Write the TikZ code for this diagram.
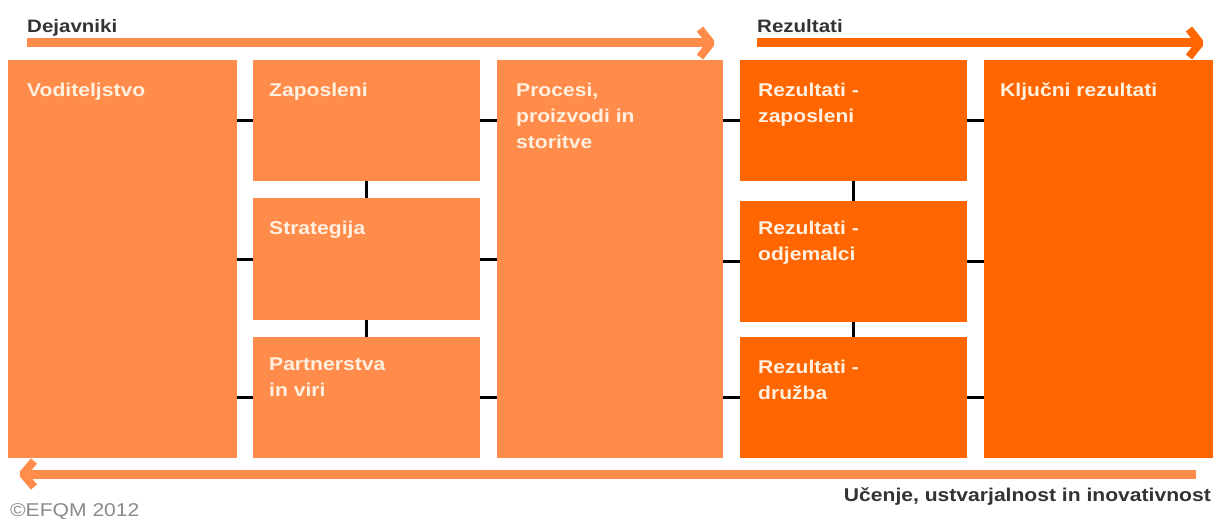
\documentclass[tikz,border=0pt]{standalone}
\usepackage{fontspec}
\setmainfont[FakeStretch=1.14]{Liberation Sans}
\usetikzlibrary{calc}

\definecolor{drvorange}{HTML}{FF8C4B}
\definecolor{resorange}{HTML}{FF6600}
\definecolor{boxtext}{HTML}{FFF0E0}
\definecolor{labelgray}{HTML}{333333}
\definecolor{notegray}{HTML}{8A8A8A}

% stacked title lines, baseline on the first line
\newcommand{\titlelines}[1]{\begin{tabular}[t]{@{}l@{}}#1\end{tabular}}

\begin{document}
\begin{tikzpicture}[x=1pt,y=-1pt,
  block/.style={rectangle, draw=none, inner sep=0pt, anchor=north west},
  drvbox/.style={block, fill=drvorange},
  resbox/.style={block, fill=resorange},
  boxlabel/.style={anchor=base west, inner sep=0pt, text=boxtext,
    font=\bfseries\fontsize{18.5}{26}\selectfont},
  headlabel/.style={anchor=base west, inner sep=0pt, text=labelgray,
    font=\bfseries\fontsize{18}{22}\selectfont},
  conn/.style={draw=black, line width=3pt},
  flowline/.style={line width=9pt},
  chevron/.style={line width=8pt, line join=bevel, line cap=butt}]

\useasboundingbox (0,0) rectangle (1213,519);
\fill[white] (0,0) rectangle (1213,519);

% ---- enablers -------------------------------------------------------
\node[drvbox, minimum width=229pt, minimum height=398pt] (lead)  at (8,60)   {};
\node[drvbox, minimum width=227pt, minimum height=121pt] (peop)  at (253,60) {};
\node[drvbox, minimum width=227pt, minimum height=122pt] (strat) at (253,198) {};
\node[drvbox, minimum width=227pt, minimum height=121pt] (part)  at (253,337) {};
\node[drvbox, minimum width=226pt, minimum height=398pt] (proc)  at (497,60) {};

% ---- results ---------------------------------------------------------
\node[resbox, minimum width=227pt, minimum height=121pt] (rpeop) at (740,60)  {};
\node[resbox, minimum width=227pt, minimum height=121pt] (rcust) at (740,201) {};
\node[resbox, minimum width=227pt, minimum height=121pt] (rsoc)  at (740,337) {};
\node[resbox, minimum width=229pt, minimum height=398pt] (rkey)  at (984,60)  {};

% ---- box titles --------------------------------------------------------
\node[boxlabel] (tlead)  at ($(lead.north west)+(19,36)$)  {Voditeljstvo};
\node[boxlabel] (tpeop)  at ($(peop.north west)+(16,36)$)  {Zaposleni};
\node[boxlabel] (tstrat) at ($(strat.north west)+(16,36)$) {Strategija};
\node[boxlabel] (tpart)  at ($(part.north west)+(16,33)$)  {\titlelines{Partnerstva\\in viri}};
\node[boxlabel] (tproc)  at ($(proc.north west)+(19,36)$)  {\titlelines{Procesi,\\proizvodi in\\storitve}};
\node[boxlabel] (trpeop) at ($(rpeop.north west)+(18,36)$) {\titlelines{Rezultati -\\zaposleni}};
\node[boxlabel] (trcust) at ($(rcust.north west)+(18,33)$) {\titlelines{Rezultati -\\odjemalci}};
\node[boxlabel] (trsoc)  at ($(rsoc.north west)+(18,36)$)  {\titlelines{Rezultati -\\družba}};
\node[boxlabel] (trkey)  at ($(rkey.north west)+(16,36)$)  {Ključni rezultati};

% ---- links between blocks ------------------------------------------------
\foreach \b in {peop,strat,part}{
  \draw[conn] (lead.east |- \b.west) -- (\b.west);
  \draw[conn] (\b.east) -- (proc.west |- \b.east);
}
\foreach \b in {rpeop,rcust,rsoc}{
  \draw[conn] (proc.east |- \b.west) -- (\b.west);
  \draw[conn] (\b.east) -- (rkey.west |- \b.east);
}
\draw[conn] (peop.south) -- (strat.north);
\draw[conn] (strat.south) -- (part.north);
\draw[conn] (rpeop.south) -- (rcust.north);
\draw[conn] (rcust.south) -- (rsoc.north);

% ---- flow arrows ------------------------------------------------------------
\node[headlabel] (hdrv) at (27,33)  {Dejavniki};
\node[headlabel] (hres) at (757,33) {Rezultati};

\draw[flowline, drvorange] (27,43) -- (706,43);
\draw[chevron, drvorange] (700,29) -- (711,43) -- (700,57);

\draw[flowline, resorange] (757,43) -- (1195,43);
\draw[chevron, resorange] (1189,29) -- (1200,43) -- (1189,57);

\draw[flowline, drvorange] (1196,474) -- (29,474);
\draw[chevron, drvorange] (34,461) -- (23,474) -- (34,487);

\node[anchor=base east, inner sep=0pt, text=labelgray,
  font=\bfseries\fontsize{18.5}{22}\selectfont] (learn) at (1211,501)
  {Učenje, ustvarjalnost in inovativnost};
\node[anchor=base west, inner sep=0pt, text=notegray,
  font=\fontsize{18.5}{22}\selectfont] (copy) at (10,516) {©EFQM 2012};
\end{tikzpicture}
\end{document}
